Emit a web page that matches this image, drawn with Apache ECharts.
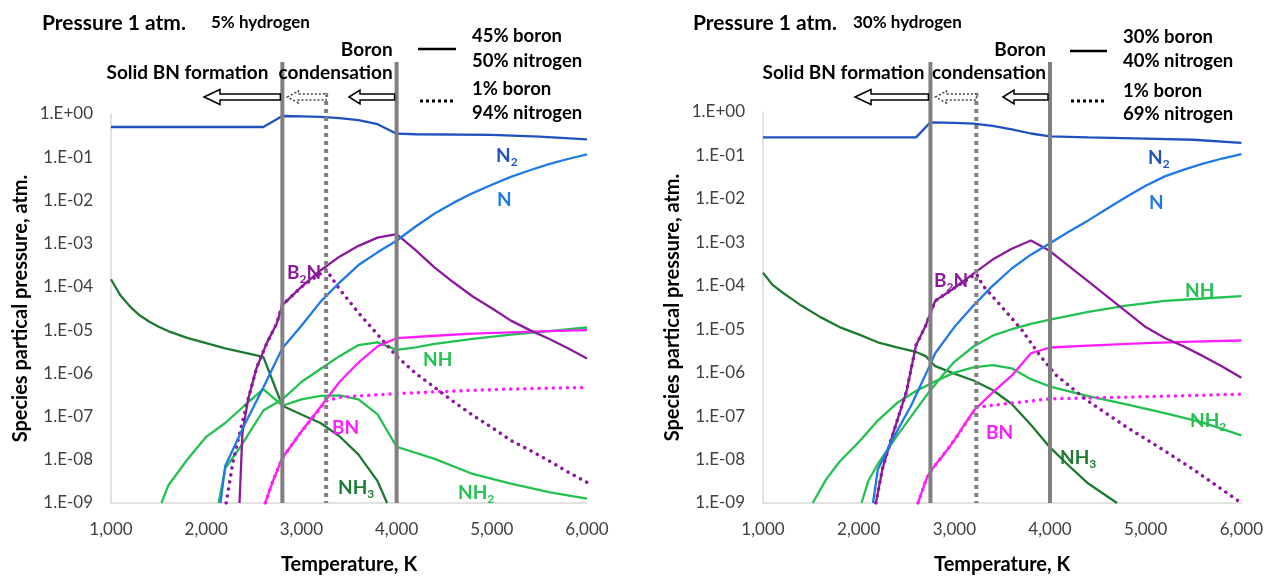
<!DOCTYPE html>
<html>
<head>
<meta charset="utf-8">
<script src="https://cdn.jsdelivr.net/npm/echarts@6/dist/echarts.min.js"></script>
<style>html,body{margin:0;padding:0;background:#fff}</style>
</head>
<body>
<div id="main" style="width:1266px;height:580px;"></div>
<script>
// ---------- data: [temperature K, partial pressure atm] ----------
// left panel: 5% hydrogen (solid = 45% boron/50% nitrogen, dotted = 1% boron/94% nitrogen)
var n2Left = [[1000,0.5],[2600,0.5],[2800,0.9],[3000,0.88],[3200,0.86],[3400,0.8],[3600,0.72],[3800,0.58],[4000,0.35],[4200,0.34],[5000,0.33],[5500,0.3],[6000,0.26]];
var nLeft = [[2150,1e-9],[2200,7.2e-9],[2400,6.3e-8],[2600,4.7e-7],[2800,3.8e-6],[3000,1.26e-5],[3200,4.5e-5],[3400,1.26e-4],[3600,3.2e-4],[3800,6.3e-4],[4000,1.17e-3],[4200,2.5e-3],[4400,5.0e-3],[4600,8.9e-3],[4800,1.48e-2],[5000,2.3e-2],[5200,3.5e-2],[5400,5.0e-2],[5600,6.9e-2],[5800,9.1e-2],[6000,0.117]];
var b2nLeft = [[2350,1e-9],[2380,4.0e-8],[2440,2.5e-7],[2530,1.35e-6],[2640,5.2e-6],[2740,1.41e-5],[2800,3.8e-5],[3000,1.0e-4],[3200,2.4e-4],[3400,5.0e-4],[3600,8.9e-4],[3800,1.38e-3],[4000,1.66e-3],[4200,7.1e-4],[4400,2.8e-4],[4600,1.26e-4],[4800,6.0e-5],[5000,3.2e-5],[5200,1.66e-5],[5400,1.0e-5],[5600,6.3e-6],[5800,3.8e-6],[6000,2.2e-6]];
var b2nLeftDot = [[2210,1e-9],[2280,8.5e-9],[2350,4.0e-8],[2440,2.5e-7],[2530,1.35e-6],[2640,5.2e-6],[2740,1.41e-5],[2800,3.8e-5],[3000,1.0e-4],[3260,2.5e-4],[3400,8.9e-5],[3600,2.5e-5],[3800,7.9e-6],[4000,2.5e-6],[4200,1.0e-6],[4400,4.7e-7],[4600,2.2e-7],[4800,1.07e-7],[5000,5.6e-8],[5200,2.8e-8],[5400,1.66e-8],[5600,9.5e-9],[5800,5.2e-9],[6000,3.0e-9]];
var nh3Left = [[1000,1.5e-4],[1100,6.3e-5],[1200,3.5e-5],[1300,2.2e-5],[1400,1.58e-5],[1500,1.2e-5],[1600,9.5e-6],[1800,6.6e-6],[2000,5.0e-6],[2200,3.8e-6],[2400,3.0e-6],[2600,2.4e-6],[2800,1.78e-7],[3000,1.12e-7],[3200,7.1e-8],[3400,3.5e-8],[3600,1.32e-8],[3800,3.2e-9],[3900,1e-9]];
var nh2Left = [[1530,1e-9],[1600,2.5e-9],[1800,1.0e-8],[2000,3.4e-8],[2200,7.1e-8],[2400,1.78e-7],[2600,4.3e-7],[2800,1.78e-7],[3000,2.5e-7],[3200,3.0e-7],[3400,3.1e-7],[3600,2.5e-7],[3800,1.12e-7],[4000,2.0e-8],[4400,1.05e-8],[4800,4.7e-9],[5200,2.8e-9],[5600,1.78e-9],[6000,1.26e-9]];
var nhLeft = [[2130,1e-9],[2200,6.3e-9],[2360,2.0e-8],[2600,1.38e-7],[2800,2.5e-7],[3000,6.3e-7],[3200,1.26e-6],[3400,2.5e-6],[3600,4.5e-6],[3800,5.2e-6],[4000,3.5e-6],[4200,4.0e-6],[4400,4.8e-6],[4800,6.3e-6],[5200,7.9e-6],[5600,9.5e-6],[6000,1.15e-5]];
var bnLeft = [[2620,1e-9],[2700,3.2e-9],[2800,1.1e-8],[3000,4.5e-8],[3200,1.66e-7],[3400,6.3e-7],[3600,1.78e-6],[3800,4.2e-6],[4000,6.5e-6],[4400,7.4e-6],[4800,8.3e-6],[5200,8.9e-6],[5600,9.5e-6],[6000,1.0e-5]];
var bnLeftDot = [[2620,1e-9],[2700,3.2e-9],[2800,1.1e-8],[3000,4.5e-8],[3260,2.3e-7],[3400,2.8e-7],[3600,3.0e-7],[4000,3.4e-7],[4500,3.8e-7],[5000,4.2e-7],[5500,4.5e-7],[6000,4.7e-7]];

// right panel: 30% hydrogen (solid = 30% boron/40% nitrogen, dotted = 1% boron/69% nitrogen)
var n2Right = [[1000,0.26],[2600,0.26],[2750,0.58],[3000,0.56],[3200,0.54],[3400,0.48],[3600,0.4],[3800,0.32],[4000,0.275],[4400,0.26],[5000,0.245],[5500,0.23],[6000,0.195]];
var nRight = [[2150,1e-9],[2200,5.9e-9],[2350,2.8e-8],[2550,1.78e-7],[2740,1.41e-6],[2800,2.8e-6],[3000,1.12e-5],[3200,3.5e-5],[3400,1.0e-4],[3600,2.5e-4],[3800,5.2e-4],[4000,9.5e-4],[4200,1.78e-3],[4400,3.2e-3],[4600,6.0e-3],[4800,1.12e-2],[5000,2.0e-2],[5200,3.3e-2],[5400,4.7e-2],[5600,6.5e-2],[5800,8.5e-2],[6000,0.107]];
var b2nRight = [[2180,1e-9],[2250,6.3e-9],[2360,4.0e-8],[2500,3.7e-7],[2600,4.3e-6],[2700,1.2e-5],[2800,4.5e-5],[3000,8.9e-5],[3200,1.9e-4],[3400,4.0e-4],[3600,7.1e-4],[3800,1.1e-3],[4000,6.3e-4],[4200,2.8e-4],[4400,1.26e-4],[4600,5.6e-5],[4800,2.5e-5],[5000,1.12e-5],[5200,6.3e-6],[5400,4.0e-6],[5600,2.4e-6],[5800,1.38e-6],[6000,7.6e-7]];
var b2nRightDot = [[2180,1e-9],[2250,6.3e-9],[2360,4.0e-8],[2500,3.7e-7],[2600,4.3e-6],[2700,1.2e-5],[2800,4.5e-5],[3000,8.9e-5],[3230,1.9e-4],[3300,1.0e-4],[3500,3.2e-5],[3700,1.0e-5],[3900,2.4e-6],[4060,8.9e-7],[4400,2.2e-7],[4800,5.6e-8],[5200,1.58e-8],[5500,5.9e-9],[6000,1e-9]];
var nh3Right = [[1000,2.0e-4],[1100,1.05e-4],[1200,7.1e-5],[1300,5.0e-5],[1400,3.5e-5],[1600,1.9e-5],[1800,1.12e-5],[2000,7.6e-6],[2200,5.0e-6],[2400,3.8e-6],[2600,3.0e-6],[2700,2.4e-6],[2800,1.41e-6],[3000,9.5e-7],[3200,6.6e-7],[3400,4.0e-7],[3600,1.9e-7],[3800,6.3e-8],[4000,1.9e-8],[4200,7.1e-9],[4400,2.8e-9],[4700,1e-9]];
var nh2Right = [[1520,1e-9],[1660,3.5e-9],[1800,8.9e-9],[2000,2.5e-8],[2200,7.9e-8],[2400,2.0e-7],[2600,3.8e-7],[2800,6.3e-7],[3000,1.0e-6],[3200,1.32e-6],[3400,1.5e-6],[3600,1.26e-6],[3800,7.1e-7],[4000,4.8e-7],[4400,2.9e-7],[4800,1.86e-7],[5200,1.17e-7],[5600,7.1e-8],[6000,3.6e-8]];
var nhRight = [[2030,1e-9],[2100,3.2e-9],[2200,7.9e-9],[2400,3.5e-8],[2600,1.41e-7],[2740,3.7e-7],[2900,1.0e-6],[3000,1.78e-6],[3200,4.0e-6],[3400,7.1e-6],[3600,1.0e-5],[3800,1.32e-5],[4000,1.66e-5],[4400,2.5e-5],[4800,3.5e-5],[5200,4.5e-5],[5600,5.1e-5],[6000,5.8e-5]];
var bnRight = [[2620,1e-9],[2700,3.2e-9],[2740,5.0e-9],[2900,1.41e-8],[3000,2.8e-8],[3200,1.32e-7],[3400,3.5e-7],[3600,8.5e-7],[3800,2.8e-6],[4000,3.8e-6],[4400,4.2e-6],[5000,4.8e-6],[5500,5.2e-6],[6000,5.5e-6]];
var bnRightDot = [[2620,1e-9],[2700,3.2e-9],[2740,5.0e-9],[2900,1.41e-8],[3000,2.8e-8],[3230,1.58e-7],[3600,2.0e-7],[4000,2.5e-7],[5000,2.8e-7],[6000,3.2e-7]];

// boundaries (K): solid BN formation, 1% boron condensation, boron condensation
var boundsLeft = [2800, 3260, 4000];
var boundsRight = [2750, 3230, 4000];

var FONT = 'Lato, "Noto Sans", sans-serif';
var C = {
    n2: '#2150c0', n: '#1f7ae8', b2n: '#8c1a9c', bn: '#ff1dfc',
    nh3: '#1e7a30', nh: '#22c150', nh2: '#22c150'
};

var chart = echarts.init(document.getElementById('main'));

function xAx(g) {
    return {
        type: 'value', gridIndex: g, min: 1000, max: 6000, interval: 1000,
        name: 'Temperature, K', nameLocation: 'middle', nameGap: 52,
        nameTextStyle: {fontFamily: FONT, fontWeight: 'bold', fontSize: 20, color: '#000'},
        axisLine: {lineStyle: {color: '#d9d9d9', width: 1.5}},
        axisTick: {show: false}, splitLine: {show: false},
        axisLabel: {fontFamily: FONT, fontSize: 17, color: '#404040', margin: 18,
            formatter: function (v) { return v.toLocaleString('en-US'); }}
    };
}
function yAx(g) {
    return {
        type: 'log', logBase: 10, gridIndex: g, min: 1e-9, max: 1, splitNumber: 9,
        name: 'Species partical pressure, atm.', nameLocation: 'middle', nameGap: 80, nameRotate: 90,
        nameTextStyle: {fontFamily: FONT, fontWeight: 'bold', fontSize: 20, color: '#000'},
        axisLine: {show: true, lineStyle: {color: '#d9d9d9', width: 1.5}},
        axisTick: {show: false}, splitLine: {show: false},
        axisLabel: {fontFamily: FONT, fontSize: 17, color: '#404040', margin: 18,
            formatter: function (v) {
                var e = Math.round(Math.log10(v));
                var a = Math.abs(e);
                return '1.E' + (e < 0 ? '-' : '+') + (a < 10 ? '0' : '') + a;
            }}
    };
}
function line(g, data, color, dotted) {
    return {
        type: 'line', xAxisIndex: g, yAxisIndex: g, data: data, showSymbol: false,
        silent: true, animation: false,
        lineStyle: dotted ? {color: color, width: 3.5, type: [0.1, 7], cap: 'round'}
                          : {color: color, width: 2.3}
    };
}

var series = [
    line(0, nh3Left, C.nh3), line(0, nh2Left, C.nh2), line(0, nhLeft, C.nh),
    line(0, bnLeft, C.bn), line(0, bnLeftDot, C.bn, true),
    line(0, b2nLeft, C.b2n), line(0, b2nLeftDot, C.b2n, true),
    line(0, nLeft, C.n), line(0, n2Left, C.n2),
    line(1, nh3Right, C.nh3), line(1, nh2Right, C.nh2), line(1, nhRight, C.nh),
    line(1, bnRight, C.bn), line(1, bnRightDot, C.bn, true),
    line(1, b2nRight, C.b2n), line(1, b2nRightDot, C.b2n, true),
    line(1, nRight, C.n), line(1, n2Right, C.n2)
];

chart.setOption({
    animation: false,
    grid: [
        {left: 111, top: 114, width: 476, height: 398},
        {left: 763, top: 112, width: 480, height: 400}
    ],
    xAxis: [xAx(0), xAx(1)],
    yAxis: [yAx(0), yAx(1)],
    series: series
});

// ---------- annotations ----------
var G = [];
function txt(x, y, s, size, opts) {
    opts = opts || {};
    G.push({type: 'text', z: 20, style: {
        x: x, y: y, text: s, fill: opts.color || '#000',
        font: 'bold ' + size + 'px ' + FONT,
        align: opts.align || 'left', verticalAlign: 'middle'
    }});
}
function species(x, y, main, sub, tail, color) {
    G.push({type: 'text', z: 20, style: {
        x: x, y: y, text: '{m|' + main + '}{s|' + sub + '}' + (tail ? '{m|' + tail + '}' : ''),
        verticalAlign: 'middle',
        rich: {
            m: {font: 'bold 19px ' + FONT, fill: color, lineHeight: 22},
            s: {font: 'bold 12px ' + FONT, fill: color, padding: [13, 0, 0, 0]}
        }
    }});
}
function arrow(tip, tail, yc, headLen, headH, dashed) {
    var sh = 3;
    G.push({type: 'polygon', z: 20, shape: {points: [
        [tip, yc], [tip + headLen, yc - headH], [tip + headLen, yc - sh], [tail, yc - sh],
        [tail, yc + sh], [tip + headLen, yc + sh], [tip + headLen, yc + headH]
    ]}, style: {fill: '#fff', stroke: dashed ? '#444' : '#000', lineWidth: 1.5,
        lineDash: dashed ? [2, 2] : null}});
}
function vline(g, xv, top, dashed) {
    var p = chart.convertToPixel({gridIndex: g}, [xv, 1e-9]);
    G.push({type: 'line', z: 15, shape: {x1: p[0], y1: top, x2: p[0], y2: p[1]},
        style: {stroke: '#808080', lineWidth: 4, lineDash: dashed ? [4, 4] : null}});
    return p[0];
}

// left panel
txt(42, 23, 'Pressure 1 atm.', 21);
txt(211, 23, '5% hydrogen', 17);
var l0 = vline(0, boundsLeft[0], 62), l1 = vline(0, boundsLeft[1], 93, true), l2 = vline(0, boundsLeft[2], 62);
txt(l2 - 4, 50, 'Boron', 19, {align: 'right'});
txt(l2 - 4, 73, 'condensation', 19, {align: 'right'});
txt(l0 - 14, 73, 'Solid BN formation', 19, {align: 'right'});
arrow(204, l0 - 2, 97, 16, 7.5, false);
arrow(l0 + 5, l1, 97, 11, 6, true);
arrow(349, l2 - 2, 97, 11, 7, false);
G.push({type: 'line', z: 20, shape: {x1: 418, y1: 49, x2: 456, y2: 49}, style: {stroke: '#000', lineWidth: 2.5}});
G.push({type: 'line', z: 20, shape: {x1: 420, y1: 101, x2: 456, y2: 101}, style: {stroke: '#000', lineWidth: 3, lineDash: [3, 3]}});
txt(472, 36, '45% boron', 18.5);
txt(472, 61, '50% nitrogen', 18.5);
txt(472, 89, '1% boron', 18.5);
txt(472, 113, '94% nitrogen', 18.5);
species(496, 156, 'N', '2', '', C.n2);
species(497, 200, 'N', '', '', C.n);
species(287, 273, 'B', '2', 'N', C.b2n);
species(423, 360, 'NH', '', '', C.nh);
species(332, 428, 'BN', '', '', C.bn);
species(338, 488, 'NH', '3', '', C.nh3);
species(458, 493, 'NH', '2', '', C.nh2);

// right panel
txt(693, 23, 'Pressure 1 atm.', 21);
txt(853, 23, '30% hydrogen', 17);
var r0 = vline(1, boundsRight[0], 62), r1 = vline(1, boundsRight[1], 93, true), r2 = vline(1, boundsRight[2], 62);
txt(r2 - 4, 50, 'Boron', 19, {align: 'right'});
txt(r2 - 4, 73, 'condensation', 19, {align: 'right'});
txt(r0 - 6, 73, 'Solid BN formation', 19, {align: 'right'});
arrow(855, r0 - 2, 97, 16, 7.5, false);
arrow(r0 + 5, r1, 97, 11, 6, true);
arrow(1003, r2 - 2, 97, 11, 7, false);
G.push({type: 'line', z: 20, shape: {x1: 1070, y1: 51, x2: 1107, y2: 51}, style: {stroke: '#000', lineWidth: 2.5}});
G.push({type: 'line', z: 20, shape: {x1: 1071, y1: 101, x2: 1107, y2: 101}, style: {stroke: '#000', lineWidth: 3, lineDash: [3, 3]}});
txt(1123, 37, '30% boron', 18.5);
txt(1123, 61, '40% nitrogen', 18.5);
txt(1123, 91, '1% boron', 18.5);
txt(1123, 114, '69% nitrogen', 18.5);
species(1148, 158, 'N', '2', '', C.n2);
species(1149, 203, 'N', '', '', C.n);
species(934, 281, 'B', '2', 'N', C.b2n);
species(1185, 291, 'NH', '', '', C.nh);
species(1190, 421, 'NH', '2', '', C.nh2);
species(986, 433, 'BN', '', '', C.bn);
species(1060, 458, 'NH', '3', '', C.nh3);

chart.setOption({graphic: G});
</script>
</body>
</html>
